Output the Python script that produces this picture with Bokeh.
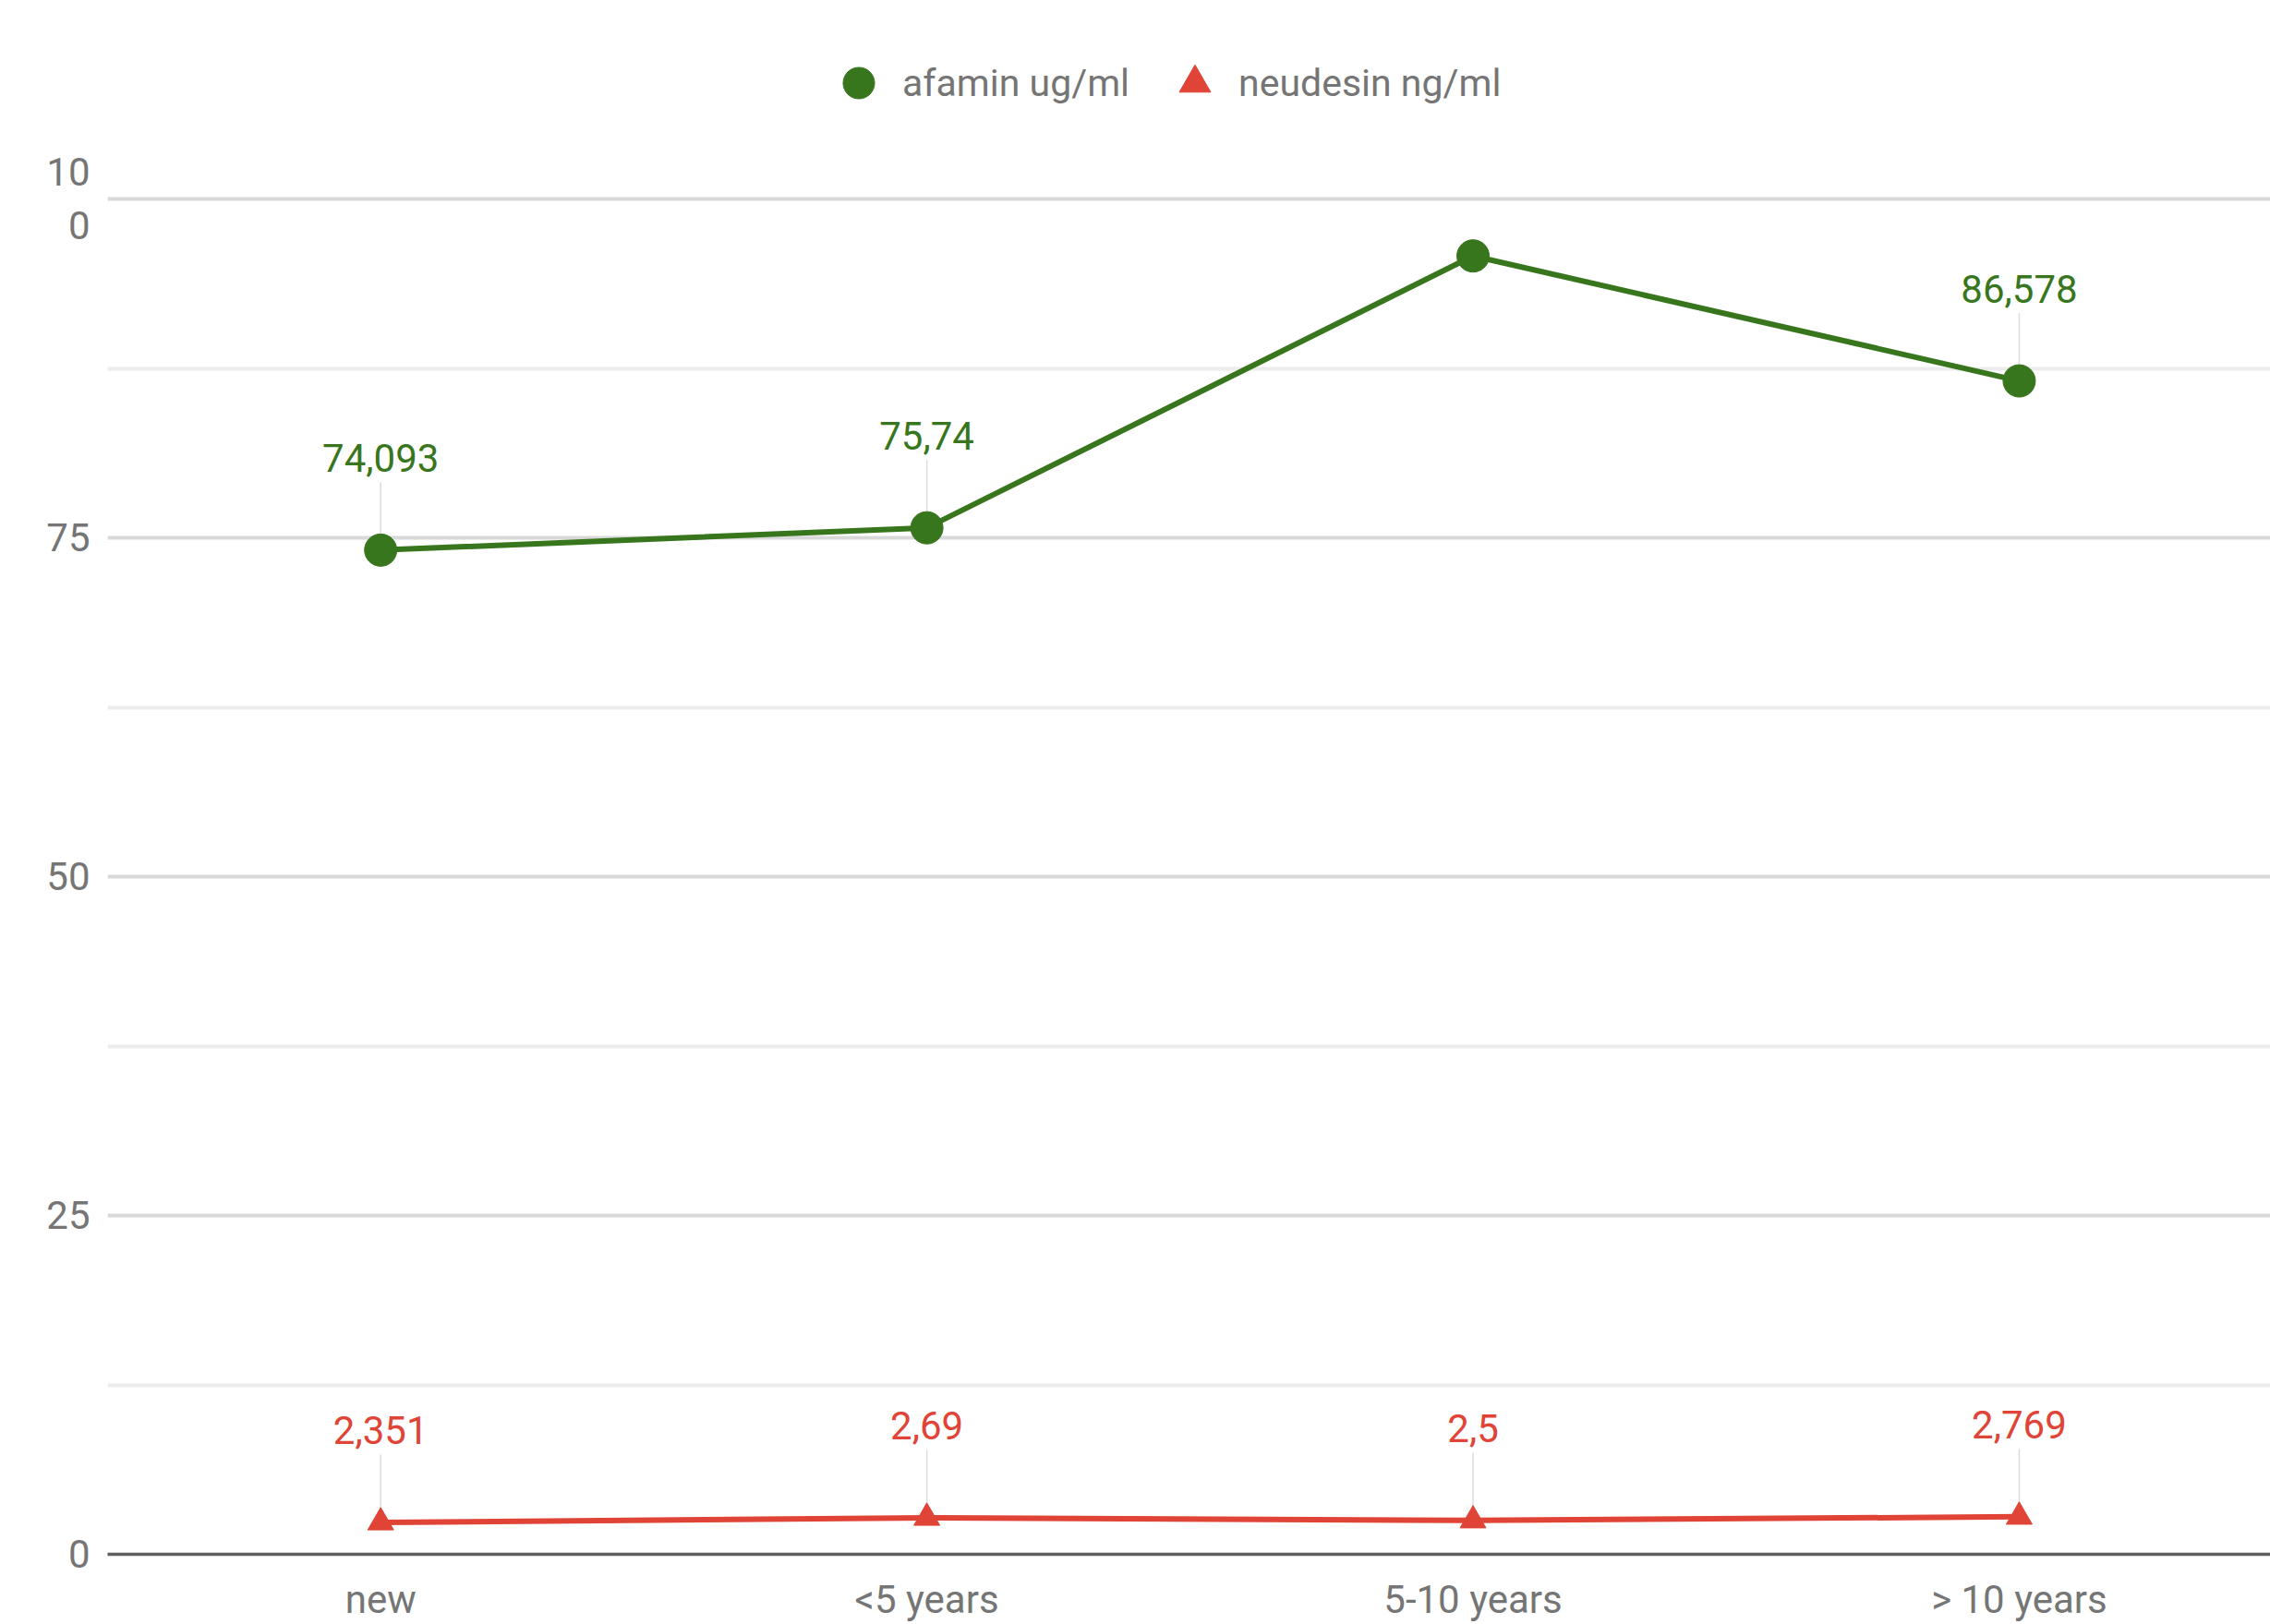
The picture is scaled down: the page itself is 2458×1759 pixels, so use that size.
from bokeh.plotting import figure
from bokeh.models import Range1d, FixedTicker, ColumnDataSource, LabelSet, Legend, LegendItem
from bokeh.core.properties import value
from bokeh.embed import file_html
from bokeh.resources import INLINE

# ---- data ----
categories = ["new", "<5 years", "5-10 years", "> 10 years"]
series_names = ["afamin ug/ml", "neudesin ng/ml"]
afamin = [74.093, 75.74, 95.8, 86.578]
afamin_labels = ["74,093", "75,74", "", "86,578"]
neudesin = [2.351, 2.69, 2.5, 2.769]
neudesin_labels = ["2,351", "2,69", "2,5", "2,769"]
y_ticks = [0, 25, 50, 75, 100]
y_tick_labels = ["0", "25", "50", "75", "10\n0"]

# ---- style ----
GREEN = "#38761d"
RED = "#df4436"
GRAY = "#757575"
FONT = "Roboto"
FS = "42px"
LEADER = 5.0  # leader line length in data units

xs = [i + 0.5 for i in range(len(categories))]

p = figure(width=2458, height=1759, output_backend="svg", toolbar_location=None,
           x_range=Range1d(0, 3.96), y_range=Range1d(0, 114.65),
           min_border_left=116, min_border_right=0, min_border_top=0, min_border_bottom=0)
p.outline_line_color = None
p.background_fill_color = "white"
p.border_fill_color = "white"

# axes / grid
xt = FixedTicker(ticks=xs)
yt = FixedTicker(ticks=y_ticks,
                 minor_ticks=[(a + b) / 2 for a, b in zip(y_ticks[:-1], y_ticks[1:])])
p.xaxis.ticker = xt
p.xgrid.ticker = xt
p.yaxis.ticker = yt
p.ygrid.ticker = yt
p.xaxis.major_label_overrides = {x: c for x, c in zip(xs, categories)}
p.yaxis.major_label_overrides = {t: l for t, l in zip(y_ticks, y_tick_labels)}

p.xgrid.grid_line_color = None
p.ygrid.grid_line_color = "#d9d9d9"
p.ygrid.grid_line_width = 4
p.ygrid.minor_grid_line_color = "#ececec"
p.ygrid.minor_grid_line_width = 4

for ax in (p.xaxis, p.yaxis):
    ax.major_tick_line_color = None
    ax.minor_tick_line_color = None
    ax.major_label_text_font = FONT
    ax.major_label_text_font_size = FS
    ax.major_label_text_color = GRAY
p.yaxis.axis_line_color = None
p.yaxis.major_label_standoff = 13
p.xaxis.axis_line_color = "#5f5f5f"
p.xaxis.axis_line_width = 3.5
p.xaxis.major_label_standoff = 18


def leaders(vals, labels, color):
    idx = [i for i, t in enumerate(labels) if t]
    p.segment(x0=[xs[i] for i in idx], x1=[xs[i] for i in idx],
              y0=[vals[i] for i in idx], y1=[vals[i] + LEADER for i in idx],
              line_color=color, line_width=1.5)


leaders(afamin, afamin_labels, "#dcdcdc")
leaders(neudesin, neudesin_labels, "#dcdcdc")

src_a = ColumnDataSource(dict(x=xs, y=afamin, t=afamin_labels))
src_n = ColumnDataSource(dict(x=xs, y=neudesin, t=neudesin_labels))

p.line("x", "y", source=src_a, line_color=GREEN, line_width=6)
g_sc = p.scatter("x", "y", source=src_a, marker="circle", size=35,
                 fill_color=GREEN, line_color=GREEN)
p.line("x", "y", source=src_n, line_color=RED, line_width=6)
r_sc = p.scatter("x", "y", source=src_n, marker="triangle", size=28,
                 fill_color=RED, line_color=RED)

for src, col in ((src_a, GREEN), (src_n, RED)):
    p.add_layout(LabelSet(x="x", y="y", text="t", source=src, y_offset=100,
                          text_align="center", text_baseline="middle",
                          text_font=value(FONT), text_font_size=value(FS),
                          text_color=value(col)))

legend = Legend(items=[LegendItem(label=series_names[0], renderers=[g_sc]),
                       LegendItem(label=series_names[1], renderers=[r_sc])],
                orientation="horizontal", location=(771, 1551),
                glyph_width=85, glyph_height=85, label_standoff=5, spacing=28,
                padding=0, margin=0, border_line_alpha=0, background_fill_alpha=0,
                label_text_font=FONT, label_text_font_size="41px", label_text_color=GRAY)
p.add_layout(legend)

open("out.html", "w").write(file_html(p, INLINE))
